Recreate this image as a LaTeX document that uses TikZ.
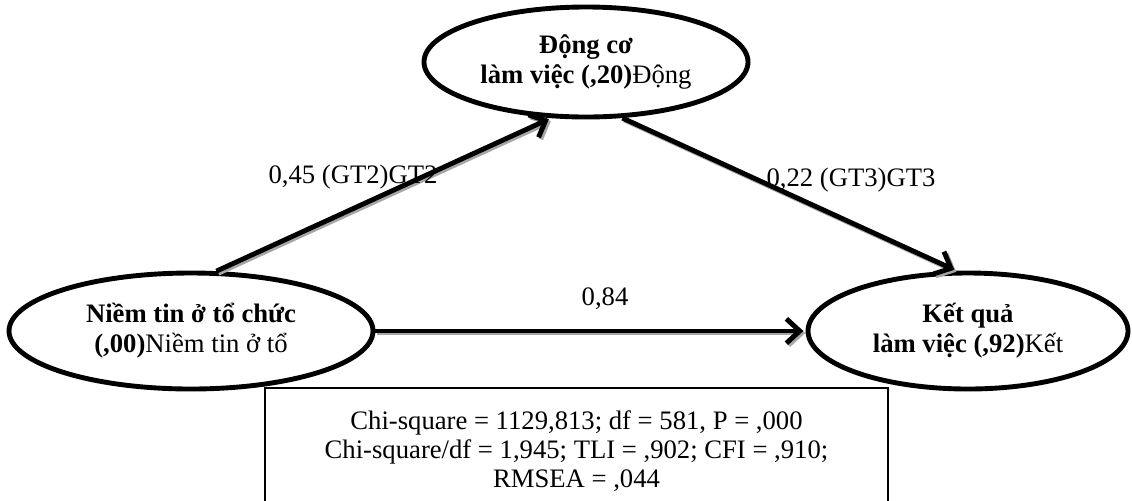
\documentclass[tikz,border=0pt]{standalone}
\usepackage{fontspec}
\setmainfont{Liberation Serif}
\usetikzlibrary{shapes.geometric,arrows.meta}

\begin{document}
\begin{tikzpicture}[x=0.45pt, y=-0.45pt, font=\fontsize{12}{13.5}\selectfont,
      latent/.style={ellipse, draw, line width=2.2pt, inner sep=0pt, align=center},
      effect/.style={line width=2.2pt, -{Straight Barb[length=6pt, width=11pt]}, shorten >=1pt,
        preaction={draw=black!35, line width=2.2pt, transform canvas={shift={(0.9pt,-0.9pt)}}}},
      coef/.style={inner sep=0pt},
      fitbox/.style={draw, line width=0.7pt, anchor=north, minimum width=280.35pt, minimum height=56.7pt, align=center, font=\fontsize{12}{13}\selectfont}]
    \useasboundingbox (0,0) rectangle (1132,500);
    \clip (0,0) rectangle (1132,500);
    \node[latent, minimum width=145.8pt, minimum height=49.5pt] (dongco) at (586,62) {\textbf{Động cơ}\\\textbf{làm việc (,20)}Động};
    \node[latent, minimum width=163.8pt, minimum height=52.2pt] (niemtin) at (191,331) {\textbf{Niềm tin ở tổ chức}\\\textbf{(,00)}Niềm tin ở tổ};
    \node[latent, minimum width=144pt, minimum height=52.2pt] (ketqua) at (968,331) {\textbf{Kết quả}\\\textbf{làm việc (,92)}Kết};
    \draw[effect] (niemtin.67) -- (dongco.238);
    \draw[effect] (dongco.303) -- (ketqua.101);
    \draw[effect] (niemtin.east) -- (ketqua.west);
    \node[coef] (gt2) at (353,177) {0,45 (GT2)GT2};
    \node[coef] (gt3) at (851,180) {0,22 (GT3)GT3};
    \node[coef] (direct) at (605,299) {0,84};
    \node[fitbox] (fit) at (576.5,387) {Chi-square = 1129,813; df = 581, P = ,000\\Chi-square/df = 1,945; TLI = ,902; CFI = ,910;\\RMSEA = ,044};
  \end{tikzpicture}
\end{document}
